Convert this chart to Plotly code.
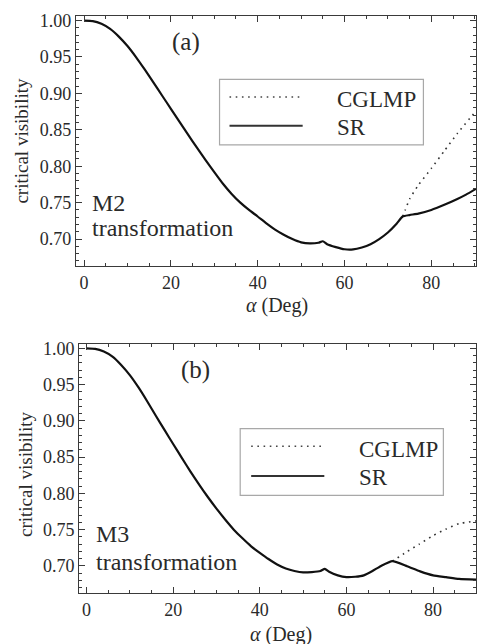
import plotly.graph_objects as go

# ---------------- data ----------------
alpha_sr_a = [0, 2, 4, 6, 8, 10, 12, 14, 16, 18, 20, 22, 24, 26, 28, 30, 32, 34, 36, 38,
              40, 42, 44, 46, 48, 50, 52, 54, 55, 56, 58, 60, 62, 64, 66, 68, 70, 72,
              73.4, 75, 77, 80, 83, 86, 88, 90.3]
sr_a = [1.000, 0.9993, 0.9955, 0.9885, 0.978, 0.965, 0.9495, 0.9325, 0.9148, 0.8968, 0.8789,
        0.861, 0.843, 0.8255, 0.8085, 0.792, 0.776, 0.762, 0.750, 0.740, 0.731, 0.7215,
        0.713, 0.706, 0.700, 0.6955, 0.694, 0.695, 0.697, 0.693, 0.689, 0.686, 0.6858,
        0.6885, 0.693, 0.700, 0.709, 0.721, 0.731, 0.733, 0.735, 0.740, 0.747, 0.755,
        0.761, 0.769]

alpha_cg_a = [73.4, 74, 75, 77, 80, 83, 86, 90.3]
cg_a = [0.731, 0.740, 0.755, 0.774, 0.797, 0.821, 0.845, 0.876]

alpha_sr_b = [0, 2, 4, 6, 8, 10, 12, 14, 16, 18, 20, 22, 24, 26, 28, 30, 32, 34, 36, 38,
              40, 42, 44, 46, 48, 50, 52, 54, 55, 56, 58, 60, 62, 64, 66, 68, 70.6,
              74, 77, 80, 83, 86, 89.9]
sr_b = [1.000, 0.9993, 0.9955, 0.9885, 0.977, 0.963, 0.946, 0.927, 0.907, 0.8875, 0.868,
        0.849, 0.830, 0.812, 0.795, 0.779, 0.764, 0.750, 0.738, 0.727, 0.718, 0.7095,
        0.702, 0.6965, 0.693, 0.691, 0.6915, 0.693, 0.696, 0.692, 0.687, 0.6845, 0.685,
        0.687, 0.693, 0.700, 0.7065, 0.6995, 0.6925, 0.687, 0.6845, 0.682, 0.681]

alpha_cg_b = [70.6, 73.7, 76.8, 79.9, 82.9, 86.0, 89.9]
cg_b = [0.7065, 0.7186, 0.730, 0.7415, 0.7506, 0.7583, 0.762]

x_major_ticks = [0, 20, 40, 60, 80]
y_major_ticks = [0.70, 0.75, 0.80, 0.85, 0.90, 0.95, 1.00]

series_names = ["CGLMP", "SR"]
panel_labels = ["(a)", "(b)"]
transform_names = ["M2", "M3"]
x_title = "<i>α</i> (Deg)"
y_title = "critical visibility"

# ---------------- styling ----------------
W, H = 477, 644
FONT = "Liberation Serif, Times New Roman, Times, serif"
AX = "#3a3a3a"
TXT = "#2a2a2a"


def px(xp):
    return xp / W


def py(yp):
    return 1 - yp / H


fig = go.Figure()

solid = dict(color="#111111", width=2.2, shape="spline", smoothing=0.5)
dotted = dict(color="#333333", width=1.6, dash="1.6px,4.6px", shape="spline", smoothing=0.5)

fig.add_trace(go.Scatter(x=alpha_cg_a, y=cg_a, mode="lines", line=dotted,
                         name=series_names[0], xaxis="x", yaxis="y"))
fig.add_trace(go.Scatter(x=alpha_sr_a, y=sr_a, mode="lines", line=solid,
                         name=series_names[1], xaxis="x", yaxis="y"))
fig.add_trace(go.Scatter(x=alpha_cg_b, y=cg_b, mode="lines", line=dotted,
                         name=series_names[0], xaxis="x2", yaxis="y2"))
fig.add_trace(go.Scatter(x=alpha_sr_b, y=sr_b, mode="lines", line=solid,
                         name=series_names[1], xaxis="x2", yaxis="y2"))

common = dict(showline=True, mirror="ticks", linecolor=AX, linewidth=1,
              ticks="inside", ticklen=6, tickwidth=1, tickcolor=AX,
              showgrid=False, zeroline=False,
              tickfont=dict(family=FONT, size=18, color=TXT))

xcommon = dict(common, tickvals=x_major_ticks,
               minor=dict(ticks="inside", ticklen=3, tickcolor=AX, dtick=5, tick0=0))
ycommon = dict(common, tickvals=y_major_ticks, tickformat=".2f",
               minor=dict(ticks="inside", ticklen=3, tickcolor=AX, dtick=0.01, tick0=0.70))

fig.update_layout(
    width=W, height=H,
    margin=dict(l=0, r=0, t=0, b=0),
    paper_bgcolor="white", plot_bgcolor="white",
    showlegend=False,
    xaxis=dict(xcommon, domain=[px(76), 1.0], range=[-1.9, 90.3], anchor="y"),
    yaxis=dict(ycommon, domain=[py(263), py(11)], range=[0.6631, 1.0064], anchor="x"),
    xaxis2=dict(xcommon, domain=[px(79.3), 1.0], range=[-1.7, 89.9], anchor="y2"),
    yaxis2=dict(ycommon, domain=[py(592.7), py(341.3)], range=[0.6625, 1.0064], anchor="x2"),
)

ann = []


def text(x, y, s, size, xref="paper", yref="paper", xanchor="center", angle=0):
    ann.append(dict(x=x, y=y, xref=xref, yref=yref, text=s, showarrow=False,
                    xanchor=xanchor, yanchor="middle", textangle=angle,
                    font=dict(family=FONT, size=size, color=TXT)))


# panel labels
text(23.4, 0.970, panel_labels[0], 25, "x", "y")
text(25.2, 0.970, panel_labels[1], 25, "x2", "y2")
# transformation labels
text(1.3, 0.7495, transform_names[0], 24, "x", "y", "left")
text(1.3, 0.715, "transformation", 24, "x", "y", "left")
text(1.7, 0.7439, transform_names[1], 24, "x2", "y2", "left")
text(1.7, 0.7056, "transformation", 24, "x2", "y2", "left")
# axis titles
for cx, cy in [(21.7, 137), (25, 472.7)]:
    text(px(cx), py(cy), y_title, 19, angle=-90)
for cx, cy in [(278, 303), (281.7, 634)]:
    text(px(cx), py(cy), x_title, 20)

shapes = []
# custom legends: (box x0, x1, y0, y1, line x0, x1, dotted y, solid y, text x, text y1, text y2)
legends = [
    (220, 424.3, 75, 141, 230, 303.3, 92.7, 121.7, 335.7, 95, 123),
    (240.7, 444.3, 427, 494.3, 251.7, 325, 444.7, 474.7, 358, 447.5, 476),
]
for (bx0, bx1, by0, by1, lx0, lx1, ly1, ly2, tx, ty1, ty2) in legends:
    shapes.append(dict(type="rect", xref="paper", yref="paper",
                       x0=px(bx0), x1=px(bx1), y0=py(by1), y1=py(by0),
                       line=dict(color="#a8a8a8", width=1.2), fillcolor="white", layer="below"))
    shapes.append(dict(type="line", xref="paper", yref="paper",
                       x0=px(lx0), x1=px(lx1), y0=py(ly1), y1=py(ly1),
                       line=dict(color="#444444", width=1.6, dash="1.6px,4.6px")))
    shapes.append(dict(type="line", xref="paper", yref="paper",
                       x0=px(lx0), x1=px(lx1), y0=py(ly2), y1=py(ly2),
                       line=dict(color="#333333", width=2.2)))
    text(px(tx), py(ty1), series_names[0], 23, xanchor="left")
    text(px(tx), py(ty2), series_names[1], 23, xanchor="left")

fig.update_layout(annotations=ann, shapes=shapes)
fig.write_html("out.html", config={"displayModeBar": False},
               post_script="document.body.style.margin='0px';document.body.style.overflow='hidden';")
